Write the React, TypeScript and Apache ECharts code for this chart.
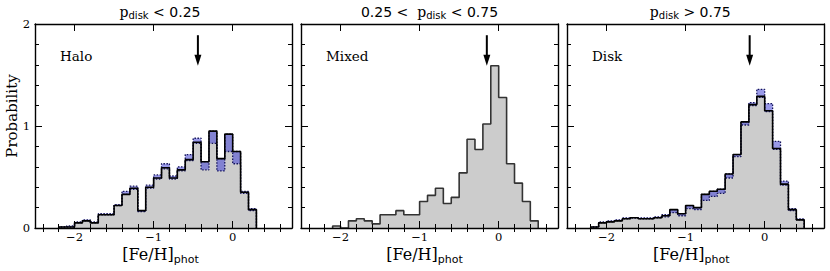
import React, { useEffect, useRef } from 'react';
import * as echarts from 'echarts';

// ---------- data ----------
const BIN_WIDTH = 0.1;

// Halo (p_disk < 0.25): bins from -2.2
const haloStart = -2.2;
const haloMain = [0.01, 0.01, 0.05, 0.07, 0.05, 0.13, 0.13, 0.22, 0.33, 0.39, 0.17, 0.40, 0.49, 0.59, 0.49, 0.57, 0.67, 0.84, 0.65, 0.95, 0.68, 0.92, 0.75, 0.35, 0.18];
const haloLower = [0.01, 0.01, 0.05, 0.07, 0.05, 0.13, 0.13, 0.22, 0.33, 0.38, 0.16, 0.39, 0.48, 0.58, 0.48, 0.56, 0.66, 0.83, 0.57, 0.83, 0.56, 0.75, 0.63, 0.34, 0.17];
const haloUpper = [0.01, 0.02, 0.06, 0.08, 0.06, 0.14, 0.14, 0.23, 0.36, 0.41, 0.17, 0.42, 0.52, 0.63, 0.51, 0.60, 0.72, 0.88, 0.65, 0.95, 0.68, 0.92, 0.75, 0.36, 0.19];

// Mixed (0.25 < p_disk < 0.75): bins from -2.1
const mixedStart = -2.1;
const mixedMain = [0.02, 0.00, 0.07, 0.09, 0.07, 0.04, 0.13, 0.13, 0.17, 0.13, 0.13, 0.26, 0.32, 0.39, 0.24, 0.30, 0.54, 0.87, 0.77, 1.02, 1.59, 1.28, 0.63, 0.44, 0.26, 0.07];

// Disk (p_disk > 0.75): bins from -2.2
const diskStart = -2.2;
const diskMain = [0.01, 0.05, 0.06, 0.07, 0.09, 0.10, 0.09, 0.09, 0.10, 0.12, 0.18, 0.14, 0.22, 0.20, 0.33, 0.36, 0.38, 0.53, 0.72, 1.04, 1.21, 1.29, 1.15, 0.78, 0.43, 0.18, 0.08];
const diskLower = [0.01, 0.05, 0.06, 0.07, 0.09, 0.10, 0.09, 0.09, 0.10, 0.11, 0.15, 0.12, 0.19, 0.18, 0.27, 0.31, 0.34, 0.49, 0.70, 1.01, 1.20, 1.28, 1.14, 0.77, 0.42, 0.17, 0.08];
const diskUpper = [0.01, 0.06, 0.07, 0.08, 0.10, 0.10, 0.10, 0.10, 0.11, 0.13, 0.18, 0.14, 0.22, 0.20, 0.33, 0.36, 0.38, 0.53, 0.72, 1.04, 1.23, 1.36, 1.22, 0.85, 0.46, 0.19, 0.09];

// arrows (median [Fe/H])
const arrowX = [-0.44, -0.15, -0.19];
const arrowTop = 1.89;
const arrowTip = 1.59;

const panelLabels = ['Halo', 'Mixed', 'Disk'];
const xMajorTicks = [-2, -1, 0];
const xMinorTicks = [-2.4, -2.2, -1.8, -1.6, -1.4, -1.2, -0.8, -0.6, -0.4, -0.2, 0.2, 0.4, 0.6];
const X_MIN = -2.5;
const X_MAX = 0.75;
const Y_MIN = 0;
const Y_MAX = 2;

// ---------- layout ----------
const GRID_LEFTS = [35, 301, 567];
const GRID_W = 257;
const GRID_TOP = 24;
const GRID_H = 204;
const TITLE_X = [160, 429.5, 690.3];
const XLABEL_X = [160.5, 424.5, 691.3];

const SERIF = 'DejaVu Serif';
const SANS = 'DejaVu Sans';

const edge = (start: number, i: number) => Math.round((start + i * BIN_WIDTH) * 100) / 100;

function stepPoints(start: number, vals: number[]) {
  const pts: number[][] = [[edge(start, 0), 0]];
  vals.forEach((v, i) => {
    pts.push([edge(start, i), v]);
    pts.push([edge(start, i + 1), v]);
  });
  pts.push([edge(start, vals.length), 0]);
  return pts;
}

function bandPoints(start: number, lo: number[], hi: number[]) {
  const pts: number[][] = [];
  hi.forEach((v, i) => {
    pts.push([edge(start, i), v]);
    pts.push([edge(start, i + 1), v]);
  });
  for (let i = lo.length - 1; i >= 0; i--) {
    pts.push([edge(start, i + 1), lo[i]]);
    pts.push([edge(start, i), lo[i]]);
  }
  return pts;
}

const fmt = (v: number) => (v < 0 ? '\u2212' + Math.abs(v) : String(v));

const panels = [
  { start: haloStart, main: haloMain, lower: haloLower, upper: haloUpper, lineColor: '#000' },
  { start: mixedStart, main: mixedMain, lower: null as number[] | null, upper: null as number[] | null, lineColor: '#333' },
  { start: diskStart, main: diskMain, lower: diskLower, upper: diskUpper, lineColor: '#000' },
];

function buildOption() {
  const grids: any[] = [];
  const xAxes: any[] = [];
  const yAxes: any[] = [];
  const series: any[] = [];
  const graphics: any[] = [];

  const frameLine = { show: true, onZero: false, lineStyle: { color: '#000', width: 1.4 } };
  const tickLine = { color: '#000', width: 1 };

  panels.forEach((p, g) => {
    grids.push({
      left: GRID_LEFTS[g],
      top: GRID_TOP,
      width: GRID_W,
      height: GRID_H,
      show: false,
      containLabel: false,
      outerBoundsMode: 'none',
    });
    const xb = { gridIndex: g, type: 'value', min: X_MIN, max: X_MAX, splitLine: { show: false }, z: 10, silent: true };
    xAxes.push(
      {
        ...xb,
        position: 'bottom',
        axisLine: frameLine,
        axisTick: { show: true, inside: true, length: 7, customValues: xMajorTicks, lineStyle: tickLine },
        axisLabel: { show: true, customValues: xMajorTicks, formatter: fmt, fontFamily: SERIF, fontSize: 11.5, lineHeight: 12, color: '#000', margin: 3 },
      },
      {
        ...xb,
        position: 'bottom',
        axisLine: { show: false },
        axisTick: { show: true, inside: true, length: 4, customValues: xMinorTicks, lineStyle: tickLine },
        axisLabel: { show: false },
      },
      {
        ...xb,
        position: 'top',
        axisLine: frameLine,
        axisTick: { show: true, inside: true, length: 7, customValues: xMajorTicks, lineStyle: tickLine },
        axisLabel: { show: false },
      },
      {
        ...xb,
        position: 'top',
        axisLine: { show: false },
        axisTick: { show: true, inside: true, length: 4, customValues: xMinorTicks, lineStyle: tickLine },
        axisLabel: { show: false },
      }
    );
    const yb = {
      gridIndex: g,
      type: 'value',
      min: Y_MIN,
      max: Y_MAX,
      interval: 1,
      splitLine: { show: false },
      minorSplitLine: { show: false },
      axisLine: frameLine,
      axisTick: { show: true, inside: true, length: 7, lineStyle: tickLine },
      minorTick: { show: true, splitNumber: 5, length: 4, lineStyle: tickLine },
      z: 10,
      silent: true,
    };
    yAxes.push(
      { ...yb, position: 'left', axisLabel: { show: g === 0, fontFamily: SERIF, fontSize: 11.5, color: '#000', margin: 5 } },
      { ...yb, position: 'right', axisLabel: { show: false } }
    );

    const xi = g * 4;
    const yi = g * 2;
    // gray filled histogram
    series.push({
      type: 'line',
      xAxisIndex: xi,
      yAxisIndex: yi,
      data: stepPoints(p.start, p.main),
      symbol: 'none',
      showSymbol: false,
      silent: true,
      lineStyle: { width: 0, opacity: 0 },
      areaStyle: { color: '#cccccc', opacity: 1 },
      z: 1,
    });
    if (p.lower && p.upper) {
      const lo = p.lower;
      const hi = p.upper;
      const start = p.start;
      series.push({
        type: 'custom',
        xAxisIndex: xi,
        yAxisIndex: yi,
        silent: true,
        data: [[start, 0]],
        z: 2,
        renderItem: (_params: any, api: any) => {
          const pts = bandPoints(start, lo, hi).map((pt) => api.coord(pt));
          return { type: 'polygon', shape: { points: pts }, style: { fill: 'rgba(70,70,215,0.55)' } };
        },
      });
      [lo, hi].forEach((arr) => {
        series.push({
          type: 'line',
          xAxisIndex: xi,
          yAxisIndex: yi,
          data: stepPoints(start, arr),
          symbol: 'none',
          showSymbol: false,
          silent: true,
          lineStyle: { color: '#14145a', width: 1.3, type: [1.5, 1.5] },
          z: 3,
        });
      });
    }
    // outline
    series.push({
      type: 'line',
      xAxisIndex: xi,
      yAxisIndex: yi,
      data: stepPoints(p.start, p.main),
      symbol: 'none',
      showSymbol: false,
      silent: true,
      lineStyle: { color: p.lineColor, width: 1.6 },
      z: 4,
    });
    // arrow
    series.push({
      type: 'custom',
      xAxisIndex: xi,
      yAxisIndex: yi,
      silent: true,
      data: [[arrowX[g], arrowTop, arrowTip]],
      z: 5,
      renderItem: (_params: any, api: any) => {
        const top = api.coord([api.value(0), api.value(1)]);
        const tip = api.coord([api.value(0), api.value(2)]);
        const headLen = 11;
        const halfW = 3.5;
        return {
          type: 'group',
          children: [
            { type: 'line', shape: { x1: top[0], y1: top[1], x2: tip[0], y2: tip[1] - headLen + 1 }, style: { stroke: '#000', lineWidth: 2 } },
            {
              type: 'polygon',
              shape: { points: [[tip[0] - halfW, tip[1] - headLen], [tip[0] + halfW, tip[1] - headLen], [tip[0], tip[1]]] },
              style: { fill: '#000' },
            },
          ],
        };
      },
    });

    // panel label
    graphics.push({
      type: 'text',
      x: GRID_LEFTS[g] + 25,
      y: 56,
      silent: true,
      style: { text: panelLabels[g], fontFamily: SERIF, fontSize: 13.5, fill: '#000', textAlign: 'left', textVerticalAlign: 'middle' },
    });
    // x label
    graphics.push({
      type: 'text',
      x: XLABEL_X[g],
      y: 255.5,
      silent: true,
      style: {
        text: '{a|[Fe/H]}{b|phot}',
        textAlign: 'center',
        textVerticalAlign: 'middle',
        rich: {
          a: { fontFamily: SERIF, fontSize: 16, lineHeight: 14, verticalAlign: 'top', fill: '#000' },
          b: { fontFamily: SANS, fontSize: 11, lineHeight: 19, verticalAlign: 'bottom', fill: '#000' },
        },
      },
    });
  });

  // titles
  const titleTexts = ['{p|p}{s|disk}{n| < 0.25}', '{n|0.25 <  }{p|p}{s|disk}{n| < 0.75}', '{p|p}{s|disk}{n| > 0.75}'];
  titleTexts.forEach((t, g) => {
    graphics.push({
      type: 'text',
      x: TITLE_X[g],
      y: 12,
      silent: true,
      style: {
        text: t,
        textAlign: 'center',
        textVerticalAlign: 'middle',
        rich: {
          p: { fontFamily: SERIF, fontSize: 14, lineHeight: 16, fill: '#000' },
          s: { fontFamily: SANS, fontSize: 10, lineHeight: 10, verticalAlign: 'bottom', fill: '#000' },
          n: { fontFamily: SANS, fontSize: 14, lineHeight: 16, fill: '#000' },
        },
      },
    });
  });

  // y label
  graphics.push({
    type: 'text',
    x: 12,
    y: 116,
    rotation: Math.PI / 2,
    silent: true,
    style: { text: 'Probability', fontFamily: SERIF, fontSize: 15, fill: '#000', textAlign: 'center', textVerticalAlign: 'middle' },
  });

  return {
    animation: false,
    backgroundColor: '#ffffff',
    grid: grids,
    xAxis: xAxes,
    yAxis: yAxes,
    series,
    graphic: { elements: graphics },
  };
}

export default function App() {
  const ref = useRef<HTMLDivElement>(null);
  useEffect(() => {
    if (!ref.current) return;
    const chart = echarts.init(ref.current, null, { renderer: 'svg' });
    chart.setOption(buildOption() as any);
    return () => chart.dispose();
  }, []);
  return <div ref={ref} style={{ position: 'fixed', left: 0, top: 0, width: 830, height: 271 }} />;
}
